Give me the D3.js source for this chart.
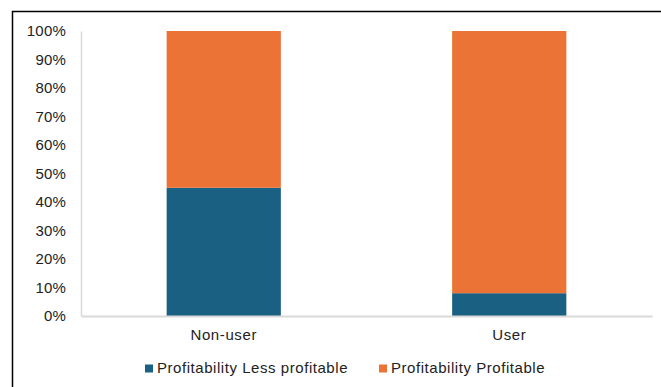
<!DOCTYPE html>
<html>
<head>
<meta charset="utf-8">
<script src="https://cdnjs.cloudflare.com/ajax/libs/d3/7.8.5/d3.min.js"></script>
<style>
  body { margin: 0; background: #fff; }
  svg text { font-family: "Liberation Sans", Arial, sans-serif; fill: #222; }
</style>
</head>
<body>
<svg id="chart" width="661" height="387"></svg>
<script>
var categories = ["Non-user", "User"];
var seriesNames = ["Profitability Less profitable", "Profitability Profitable"];
var lessProfitable = [0.45, 0.08];
var profitable = [0.55, 0.92];
var yTicks = [0, 0.1, 0.2, 0.3, 0.4, 0.5, 0.6, 0.7, 0.8, 0.9, 1.0];
var colors = ["#1a6082", "#ea7335"];

var svg = d3.select("#chart");

// outer frame (runs off the right and bottom edges)
svg.append("rect")
  .attr("x", 12.5).attr("y", 11.5)
  .attr("width", 700).attr("height", 400)
  .attr("fill", "none").attr("stroke", "#000").attr("stroke-width", 1.5);

var margin = {left: 81, right: 9, top: 31, bottom: 71};
var width = 661 - margin.left - margin.right;
var height = 387 - margin.top - margin.bottom;

var g = svg.append("g").attr("transform", "translate(" + margin.left + "," + margin.top + ")");

var x = d3.scaleBand().domain(categories).range([0, width]).paddingInner(0.6).paddingOuter(0.3);
var y = d3.scaleLinear().domain([0, 1]).range([height, 0]);

var stackData = categories.map(function(c, i) {
  return {cat: c, less: lessProfitable[i], prof: profitable[i]};
});
var stack = d3.stack().keys(["less", "prof"]);
var layers = stack(stackData);

g.selectAll(".layer")
  .data(layers)
  .enter().append("g")
  .attr("class", "layer")
  .attr("fill", function(d, i) { return colors[i]; })
  .selectAll("rect")
  .data(function(d) { return d; })
  .enter().append("rect")
  .attr("x", function(d) { return x(d.data.cat); })
  .attr("y", function(d) { return y(d[1]); })
  .attr("width", x.bandwidth())
  .attr("height", function(d) { return y(d[0]) - y(d[1]); });

// axes
var yAxis = g.append("g").call(d3.axisLeft(y).tickValues(yTicks).tickFormat(d3.format(".0%")).tickSize(0).tickPadding(15));
yAxis.select(".domain").attr("stroke", "#d9d9d9").attr("stroke-width", 1.5);
yAxis.selectAll("text").style("font-size", "15px").style("letter-spacing", "0.2px");

var xAxis = g.append("g").attr("transform", "translate(0," + height + ")")
  .call(d3.axisBottom(x).tickSize(0).tickPadding(13));
xAxis.select(".domain").attr("stroke", "#d9d9d9").attr("stroke-width", 2);
xAxis.selectAll("text").style("font-size", "15px").style("letter-spacing", "0.6px");

// legend
var legendX = [145, 379];
var legend = svg.selectAll(".legend")
  .data(seriesNames)
  .enter().append("g")
  .attr("class", "legend")
  .attr("transform", function(d, i) { return "translate(" + legendX[i] + ",364.5)"; });
legend.append("rect").attr("width", 8).attr("height", 8)
  .attr("fill", function(d, i) { return colors[i]; });
legend.append("text").attr("x", 12).attr("y", 8)
  .style("font-size", "15px").style("letter-spacing", "0.55px")
  .text(function(d) { return d; });
</script>
</body>
</html>
